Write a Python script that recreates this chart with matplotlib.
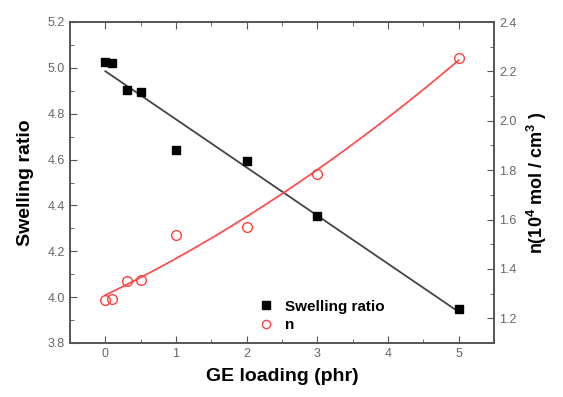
import matplotlib
matplotlib.use('Agg')
import matplotlib.pyplot as plt
import numpy as np
from matplotlib.ticker import MultipleLocator

plt.rcParams['font.family'] = ['Liberation Sans', 'DejaVu Sans']
plt.rcParams['mathtext.fontset'] = 'custom'
plt.rcParams['mathtext.rm'] = 'Liberation Sans:bold'
plt.rcParams['mathtext.bf'] = 'Liberation Sans:bold'

ge = [0, 0.1, 0.3, 0.5, 1, 2, 3, 5]
swelling = [5.025, 5.02, 4.905, 4.895, 4.64, 4.595, 4.355, 3.95]
n_vals = [1.275, 1.277, 1.352, 1.356, 1.537, 1.57, 1.783, 2.255]

fig = plt.figure(figsize=(5.63, 3.97), dpi=100)
ax = fig.add_axes([70/563, 1-343/397, 424/563, 321/397])
ax2 = ax.twinx()

xf = np.linspace(0, 5, 200)
p1 = np.polyfit(ge, swelling, 1)
p2 = np.polyfit(ge, n_vals, 2)

ax.plot(xf, np.polyval(p1, xf), color='#444444', lw=1.3, zorder=2)
l1, = ax.plot(ge, swelling, 's', color='black', ms=6, zorder=3, label='Swelling ratio')
ax2.plot(xf, np.polyval(p2, xf), color='#ff5050', lw=1.3)
l2, = ax2.plot(ge, n_vals, 'o', mfc='none', mec='#ff4040', ms=7, mew=1.0, label='n')

ax.set_xlim(-0.5, 5.5)
ax.set_ylim(3.8, 5.2)
ax2.set_ylim(1.1, 2.4)

ax.xaxis.set_major_locator(MultipleLocator(1))
ax.xaxis.set_minor_locator(MultipleLocator(0.5))
ax.yaxis.set_major_locator(MultipleLocator(0.2))
ax.yaxis.set_minor_locator(MultipleLocator(0.1))
ax2.set_yticks([1.2, 1.4, 1.6, 1.8, 2.0, 2.2, 2.4])
ax2.yaxis.set_minor_locator(MultipleLocator(0.1))

tc = '#666666'
for a in (ax, ax2):
    for s in a.spines.values():
        s.set_color('#555555')
        s.set_linewidth(1.2)
ax.tick_params(which='both', direction='in', top=True, colors='#555555',
               labelcolor=tc, labelsize=9)
ax.tick_params(which='major', length=5)
ax.tick_params(which='minor', length=3)
ax2.tick_params(which='both', direction='in', colors='#555555',
                labelcolor=tc, labelsize=9)
ax2.tick_params(which='major', length=5)
ax2.tick_params(which='minor', length=3)

ax.set_xlabel('GE loading (phr)', fontsize=14, fontweight='bold', labelpad=6)
ax.set_ylabel('Swelling ratio', fontsize=14, fontweight='bold', labelpad=10)
ax2.set_ylabel(r'n(10$^{4}$ mol / cm$^{3}$ )', fontsize=13, fontweight='bold', labelpad=6)

ax.legend([l1, l2], ['Swelling ratio', 'n'], loc='lower left',
          bbox_to_anchor=(0.4, 0.0), frameon=False, handletextpad=0.3,
          prop={'weight': 'bold', 'size': 11}, borderaxespad=0.3, labelspacing=0.3,
          markerscale=0.85)

fig.savefig('out.png', dpi=100)
